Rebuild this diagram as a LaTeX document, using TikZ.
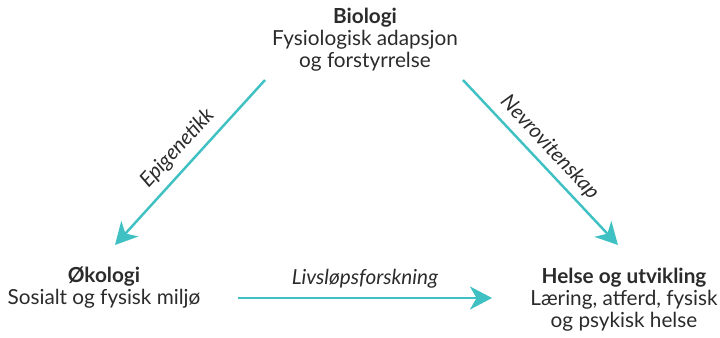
\documentclass[tikz,border=0pt]{standalone}
\usepackage{fontspec}
\setmainfont{Lato}
\usetikzlibrary{arrows.meta}

\definecolor{teal}{HTML}{3FC1C3}
\definecolor{ink}{HTML}{2B2B2B}

\begin{document}
\begin{tikzpicture}[
    every node/.style={text=ink, font=\fontsize{11.8}{12.6}\selectfont},
    box/.style={align=center, inner sep=0pt},
    link/.style={teal, line width=1.4pt, -{Stealth[length=4.4mm, width=4.6mm, inset=1.3mm]}},
    tag/.style={font=\fontsize{11.8}{12.6}\selectfont\itshape}
  ]
    \useasboundingbox (0,0) rectangle (14.4,6.74);
    \node[box] (bio) at (7.3, 5.94) {\textbf{Biologi}\\Fysiologisk adapsjon\\og forstyrrelse};
    \node[box] (oko) at (2.08, 0.99) {\textbf{Økologi}\\Sosialt og fysisk miljø};
    \node[box] (helse) at (12.48, 0.74) {\textbf{Helse og utvikling}\\Læring, atferd, fysisk\\og psykisk helse};
    \coordinate (bioL) at (5.3, 5.14);
    \coordinate (bioR) at (9.26, 5.14);
    \coordinate (okoT) at (2.3, 1.84);
    \coordinate (okoR) at (4.76, 0.78);
    \coordinate (helseT) at (12.36, 1.84);
    \coordinate (helseL) at (9.84, 0.78);
    \draw[link] (bioL) -- (okoT);
    \draw[link] (bioR) -- (helseT);
    \draw[link] (okoR) -- (helseL);
    \node[tag, rotate=47.7] (epi) at (3.55, 3.77) {Epigenetikk};
    \node[tag, rotate=-46.8] (nevro) at (10.99, 3.79) {Nevrovitenskap};
    \node[tag] (livs) at (7.3, 1.16) {Livsløpsforskning};
\end{tikzpicture}
\end{document}
